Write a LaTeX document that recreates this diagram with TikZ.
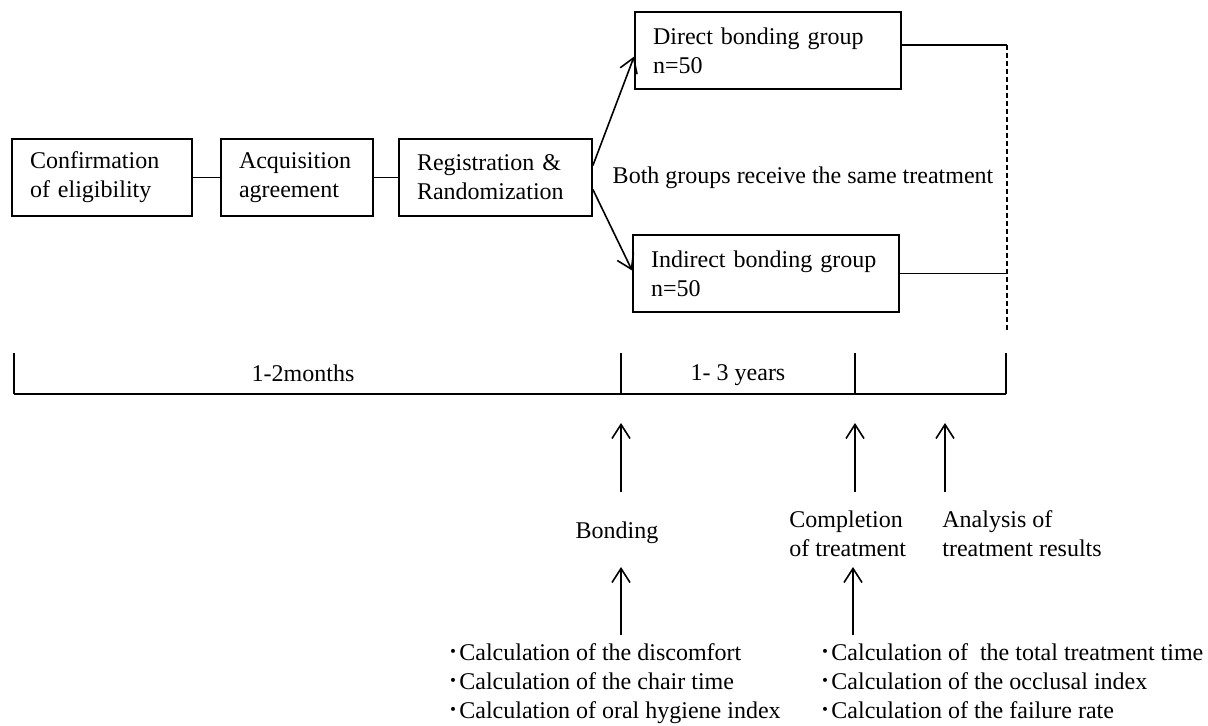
\documentclass[tikz,border=0pt]{standalone}
\usepackage{fontspec}
\setmainfont{Liberation Serif}
\newfontfamily\cjk{Noto Sans CJK JP}
\usetikzlibrary{arrows.meta}
\newcommand{\bul}{{\cjk ･}}

\begin{document}
\begin{tikzpicture}[x=0.5pt,y=-0.5pt,
  every node/.style={font=\fontsize{12}{14.5}\selectfont},
  stage/.style={draw,line width=0.9pt,align=left,inner xsep=9pt,inner ysep=0pt,minimum height=38.5pt},
  link/.style={line width=0.9pt},
  up/.style={line width=0.8pt,-{Straight Barb[length=7pt,width=9pt]}},
  lbl/.style={align=left,anchor=west,inner sep=0pt}]
\useasboundingbox (0,0) rectangle (1208,725);

% study flow
\node[stage,text width=72pt] (conf) at (102,177.5) {Confirmation\\of eligibility};
\node[stage,text width=58pt] (acq) at (297,177.5) {Acquisition\\agreement};
\node[stage,text width=78.5pt] (reg) at (495.5,177.5) {Registration \&\\Randomization};
\node[stage,text width=115pt] (direct) at (768,50.5) {Direct bonding group\\n=50};
\node[stage,text width=115pt] (indirect) at (766,273.5) {Indirect bonding group\\n=50};
\node[] (same) at (803,178) {Both groups receive the same treatment};

\draw[link] (conf) -- (acq);
\draw[link] (acq) -- (reg);
\draw[up] ([yshift=6pt]reg.east) -- ([yshift=-3pt]direct.west);
\draw[up] ([yshift=-6pt]reg.east) -- ([yshift=1.5pt]indirect.west);

\coordinate (dtop) at (1007,45);
\coordinate (dbot) at (1007,333);
\draw[link] (direct.east |- dtop) -- (dtop);
\draw[link] (indirect.east) -- (indirect.east -| dtop);
\draw[line width=0.8pt,dash pattern=on 2.5pt off 1.5pt] (dtop) -- (dbot); %end of treatment

% time line
\coordinate (t0) at (14,394);
\coordinate (t1) at (621,394);
\coordinate (t2) at (855,394);
\coordinate (t3) at (1006,394);
\draw[link] (t0) -- (t3);
\foreach \t in {t0,t1,t2,t3} \draw[link] (\t) -- ++(0,-41);
\node[] (prep) at (303,373) {1-2months};
\node[] (treat) at (738,375) {1- 3 years};

\foreach \x in {621,855,945} \draw[up] (\x,492) -- (\x,423);

% events
\node[] (bond) at (617,533) {Bonding};
\node[lbl] (comp) at (789,534) {Completion\\of treatment};
\node[lbl] (anal) at (942,534) {Analysis of\\treatment results};

\foreach \x in {621,853} \draw[up] (\x,635) -- (\x,567);

% measurements
\node[lbl,anchor=base west] (calc1) at (447,718) {\bul Calculation of the discomfort\\\bul Calculation of the chair time\\\bul Calculation of oral hygiene index};
\node[lbl,anchor=base west] (calc2) at (819,718) {\bul Calculation of\ \ the total treatment time\\\bul Calculation of the occlusal index\\\bul Calculation of the failure rate};

\end{tikzpicture}
\end{document}
